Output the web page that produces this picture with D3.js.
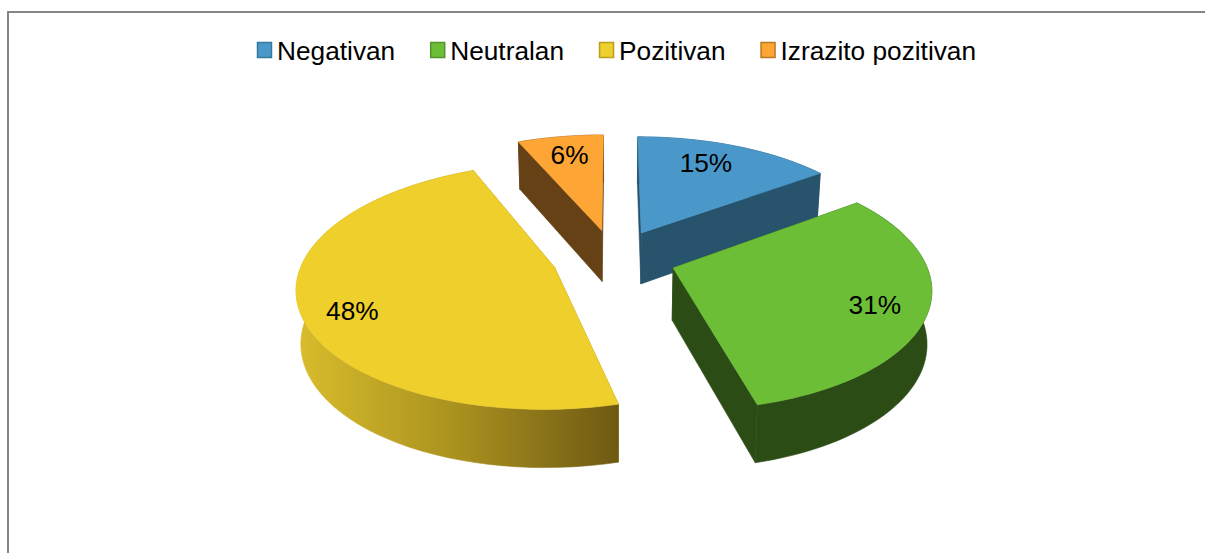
<!DOCTYPE html>
<html lang="en">
  <head>
    <meta charset="utf-8">
    <title>3D exploded pie</title>
    <script src="https://cdnjs.cloudflare.com/ajax/libs/d3/7.8.0/d3.min.js"></script>
    <style>
      html, body { margin: 0; padding: 0; background: #fff; }
      svg { display: block; }
      text { font-family: "Liberation Sans", Arial, sans-serif; font-size: 26.25px; fill: #000; }
    </style>
  </head>
  <body>
    <div id="chartContainer"></div>

    <script type="text/javascript">
      // Chart data (values are estimated before rounding to the printed percent)
      var categories = ["Negativan", "Neutralan", "Pozitivan", "Izrazito pozitivan"];
      var values = [15, 31, 47.5, 6.5];
      var percentLabels = ["15%", "31%", "48%", "6%"];

      // Colours: top face, wall, legend swatch border
      var topColors = ["#4a98c9", "#6cbe37", "#eecf2c", "#fda635"];
      var wallColors = ["#27536c", "#2c4c15", "#a08a1e", "#674116"];
      var swatchBorders = ["#35789f", "#54952a", "#b89f1e", "#b9791f"];

      var width = 1205, height = 553;

      // Projection of the tilted pie
      var centerX = 614, centerY = 258;
      var radius = 251, tilt = 0.468, persp = 0.15;
      var explode = 0.247, labelRadius = 0.78;
      var labelNudge = [[-11, 0], [5, 4], [-5, 12], [1, 0]];

      function dirOf(a) { return [Math.sin(a), -Math.cos(a)]; }

      // r = distance along angle a, from the apex of slice d
      function project(d, a, r, lower) {
        var mid = (d.startAngle + d.endAngle) / 2;
        var m = dirOf(mid), p = dirOf(a);
        var u = m[0] * explode + p[0] * r;
        var v = m[1] * explode + p[1] * r;
        var s = 1 / (1 - persp * v);
        if (!lower) {
          return [centerX + radius * u * s, centerY + radius * tilt * v * s];
        }
        var sLow = s * 0.985;
        return [centerX + radius * u * sLow, centerY + radius * tilt * v * s + 20 + 32 * s];
      }

      var svg = d3.select("#chartContainer").append("svg")
        .attr("width", width)
        .attr("height", height);

      var defs = svg.append("defs");
      var grad = defs.append("linearGradient")
        .attr("id", "yellowWall")
        .attr("gradientUnits", "userSpaceOnUse")
        .attr("x1", 297).attr("x2", 619).attr("y1", 0).attr("y2", 0);
      grad.append("stop").attr("offset", "0").attr("stop-color", "#d9bc2c");
      grad.append("stop").attr("offset", "0.5").attr("stop-color", "#a9911f");
      grad.append("stop").attr("offset", "1").attr("stop-color", "#6e5913");

      // Frame
      svg.append("path")
        .attr("d", "M8," + height + "V12H" + width)
        .attr("fill", "none")
        .attr("stroke", "#868686")
        .attr("stroke-width", 2);

      // Legend
      var legend = svg.append("g");
      var legendX = 257;
      categories.forEach(function(name, i) {
        legend.append("rect")
          .attr("x", legendX + 0.5)
          .attr("y", 42.5)
          .attr("width", 14)
          .attr("height", 15)
          .attr("fill", topColors[i])
          .attr("stroke", swatchBorders[i])
          .attr("stroke-width", 1.5);
        var t = legend.append("text")
          .attr("x", legendX + 20)
          .attr("y", 60)
          .text(name);
        legendX += 20 + t.node().getComputedTextLength() + 35;
      });

      // Slices
      var pie = d3.pie().sort(null).value(function(d) { return d; });
      var arcs = pie(values);
      var line = d3.line();

      function rim(d, lower) {
        return d3.range(0, 61).map(function(k) {
          var a = d.startAngle + (d.endAngle - d.startAngle) * k / 60;
          return project(d, a, 1, lower);
        });
      }

      function poly(g, pts, fill) {
        g.append("path")
          .attr("d", line(pts) + "Z")
          .attr("fill", fill)
          .attr("stroke", fill)
          .attr("stroke-width", 0.6)
          .attr("stroke-linejoin", "round");
      }

      // Back to front: orange, blue, yellow, green
      [3, 0, 2, 1].forEach(function(i) {
        var d = arcs[i];
        var g = svg.append("g");
        var wall = i === 2 ? "url(#yellowWall)" : wallColors[i];
        var apex = project(d, d.startAngle, 0, false);
        var apexLow = project(d, d.startAngle, 0, true);
        var top = rim(d, false), low = rim(d, true);
        var cutColor = wallColors[i];

        poly(g, [apex, top[0], low[0], apexLow], cutColor);
        poly(g, [apex, top[60], low[60], apexLow], cutColor);
        poly(g, top.concat(low.slice().reverse()), wall);
        poly(g, [apex].concat(top), topColors[i]);
      });

      // Percent labels
      arcs.forEach(function(d, i) {
        var pos = project(d, (d.startAngle + d.endAngle) / 2, labelRadius, false);
        svg.append("text")
          .attr("x", pos[0] + labelNudge[i][0])
          .attr("y", pos[1] + labelNudge[i][1] + 9)
          .attr("text-anchor", "middle")
          .text(percentLabels[i]);
      });
    </script>
  </body>
</html>
